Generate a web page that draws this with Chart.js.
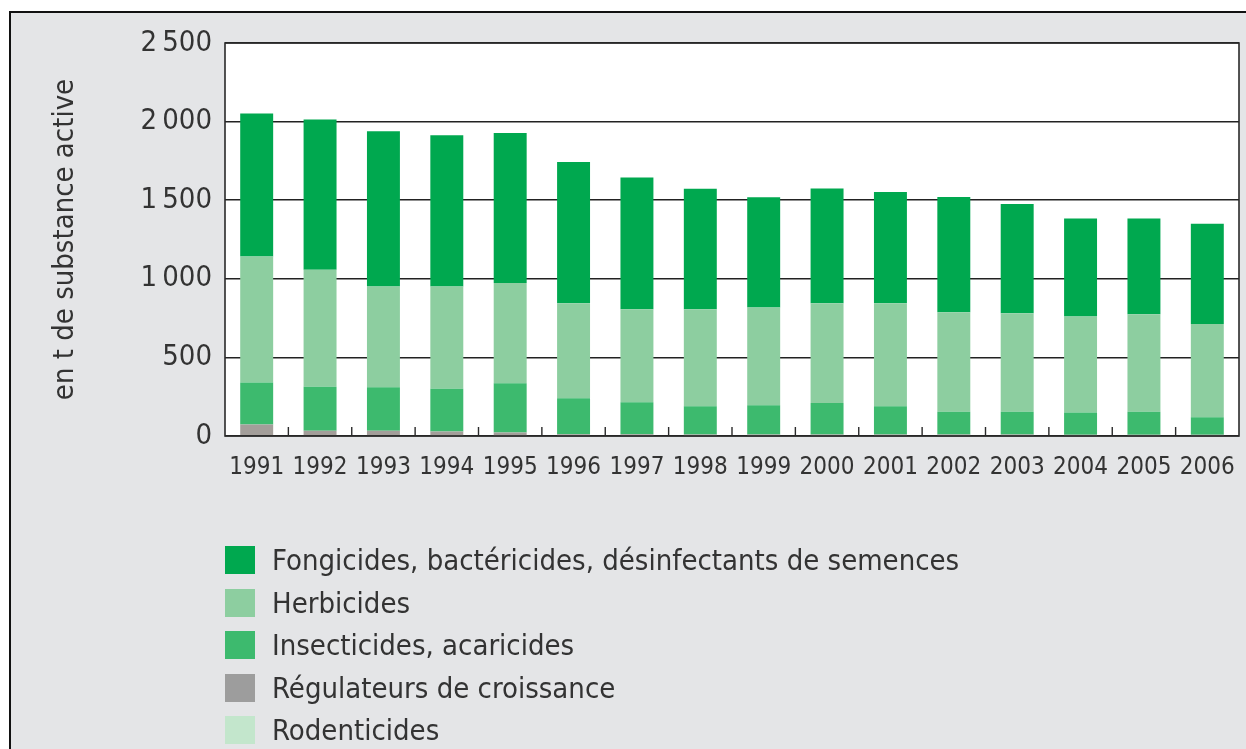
<!DOCTYPE html>
<html>
<head>
<meta charset="utf-8">
<script src="https://cdn.jsdelivr.net/npm/chart.js@4/dist/chart.umd.min.js"></script>
<style>
  html, body { margin: 0; padding: 0; background: #ffffff; width: 1246px; height: 749px; overflow: hidden; }
  #frame { position: absolute; left: 9px; top: 11px; width: 1260px; height: 760px; background: #e4e5e7; border-top: 2px solid #111; border-left: 2px solid #111; }
  #wrap { position: absolute; left: 0; top: 0; width: 1246px; height: 749px; }
  #legend { position: absolute; left: 225px; top: 539px; font-family: "DejaVu Sans Condensed", "Liberation Sans Narrow", sans-serif; font-size: 29px; color: #333; }
  .row { height: 42.5px; display: flex; align-items: center; white-space: nowrap; }
  .box { width: 30px; height: 28px; margin-right: 17px; flex: none; }
</style>
</head>
<body>
<div id="frame"></div>
<div id="wrap"><canvas id="c" width="1246" height="749"></canvas></div>
<div id="legend"></div>
<script>
// ---- data ----
const years = ['1991','1992','1993','1994','1995','1996','1997','1998','1999','2000','2001','2002','2003','2004','2005','2006'];
const rodenticides = [5, 4, 4, 3, 3, 3, 3, 3, 3, 3, 3, 3, 3, 3, 3, 3];
const regulateurs = [68, 30, 30, 25, 20, 8, 8, 7, 7, 7, 6, 6, 6, 5, 5, 5];
const insecticides = [267, 280, 276, 272, 312, 229, 204, 180, 185, 200, 181, 146, 146, 142, 147, 112];
const herbicides = [802, 743, 641, 651, 639, 605, 592, 617, 622, 635, 655, 633, 626, 610, 620, 593];
const fongicides = [909, 956, 987, 962, 954, 898, 838, 766, 701, 730, 707, 732, 695, 624, 609, 637];
const yTickValues = [0, 500, 1000, 1500, 2000, 2500];
const yTickLabels = ['0', '500', '1\u2009000', '1\u2009500', '2\u2009000', '2\u2009500'];
const yTitle = 'en t de substance active';
const seriesNames = ['Rodenticides', 'Régulateurs de croissance', 'Insecticides, acaricides', 'Herbicides', 'Fongicides, bactéricides, désinfectants de semences'];
const seriesColors = ['#c3e6cc', '#a39e9a', '#3dba6e', '#8dcea0', '#00a84f'];
const legendColors = ['#c3e6cc', '#9d9d9d', '#3dba6e', '#8dcea0', '#00a84f'];
const seriesValues = [rodenticides, regulateurs, insecticides, herbicides, fongicides];

const FONT = '"DejaVu Sans Condensed", "Liberation Sans Narrow", sans-serif';

const datasets = seriesNames.map((n, i) => ({
  label: n,
  data: seriesValues[i],
  backgroundColor: seriesColors[i],
  borderWidth: 0,
  barPercentage: 0.52,
  categoryPercentage: 1.0
}));

const plotDeco = {
  id: 'plotDeco',
  beforeDraw(chart) {
    const a = chart.chartArea, ctx = chart.ctx;
    ctx.save();
    ctx.fillStyle = '#ffffff';
    ctx.fillRect(a.left, a.top, a.right - a.left, a.bottom - a.top);
    ctx.restore();
  },
  afterDatasetsDraw(chart) {
    const a = chart.chartArea, ctx = chart.ctx;
    const xs = chart.scales.x;
    ctx.save();
    ctx.strokeStyle = '#2a2a2a';
    ctx.lineWidth = 1.6;
    ctx.strokeRect(a.left, a.top, a.right - a.left, a.bottom - a.top);
    ctx.lineWidth = 1.4;
    ctx.beginPath();
    for (let i = 1; i < years.length; i++) {
      const x = (xs.getPixelForTick(i - 1) + xs.getPixelForTick(i)) / 2;
      ctx.moveTo(x, a.bottom);
      ctx.lineTo(x, a.bottom - 9);
    }
    ctx.stroke();
    ctx.restore();
  }
};

new Chart(document.getElementById('c'), {
  type: 'bar',
  data: { labels: years, datasets },
  options: {
    responsive: false,
    animation: false,
    layout: { padding: { left: 0, top: 43, right: 7, bottom: 263 } },
    plugins: { legend: { display: false }, tooltip: { enabled: false } },
    scales: {
      x: {
        stacked: true,
        grid: { display: false, drawTicks: false },
        border: { display: false },
        ticks: { color: '#333', font: { family: FONT, size: 24 }, padding: 17, maxRotation: 0, autoSkip: false },
        afterFit(s) { s.height = 50; s.paddingLeft = 0; s.paddingRight = 0; }
      },
      y: {
        stacked: true,
        min: 0, max: 2500,
        afterBuildTicks(s) { s.ticks = yTickValues.map(v => ({ value: v })); },
        grid: { color: '#222', lineWidth: 1.6, drawTicks: false },
        border: { display: false },
        ticks: {
          color: '#333', font: { family: FONT, size: 29 }, padding: 13,
          callback: (v) => yTickLabels[yTickValues.indexOf(v)]
        },
        title: { display: true, text: yTitle, color: '#333', font: { family: FONT, size: 29 }, padding: { top: 48, bottom: 0 } },
        afterFit(s) { s.width = 225; }
      }
    }
  },
  plugins: [plotDeco]
});

// legend (top to bottom = stack top to bottom)
const lg = document.getElementById('legend');
for (let i = seriesNames.length - 1; i >= 0; i--) {
  const r = document.createElement('div'); r.className = 'row';
  const b = document.createElement('div'); b.className = 'box'; b.style.background = legendColors[i];
  const t = document.createElement('span'); t.textContent = seriesNames[i];
  r.appendChild(b); r.appendChild(t); lg.appendChild(r);
}
</script>
</body>
</html>
